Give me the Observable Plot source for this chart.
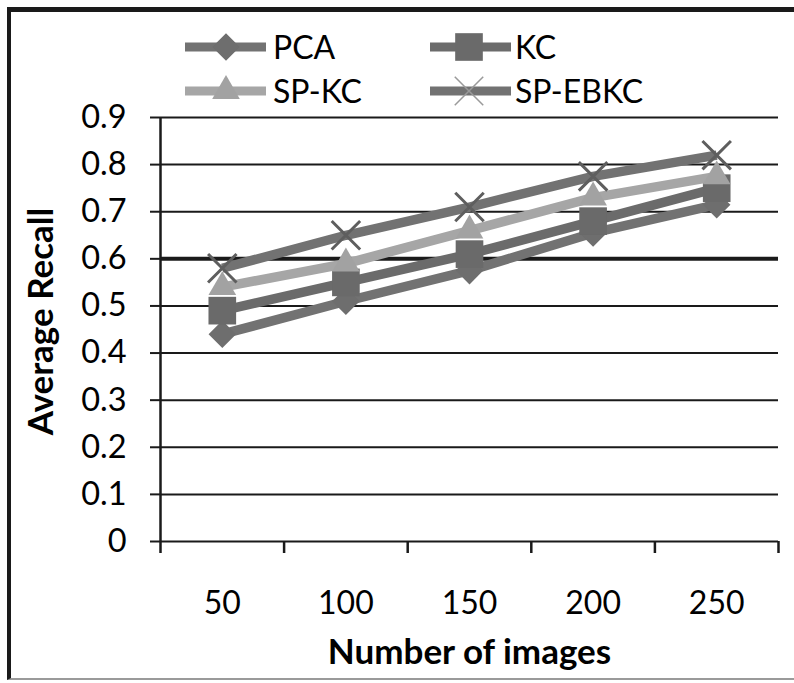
<!DOCTYPE html>
<html>
<head>
<meta charset="utf-8">
<script src="https://cdn.jsdelivr.net/npm/d3@7"></script>
<script src="https://cdn.jsdelivr.net/npm/@observablehq/plot@0.6"></script>
<style>
  html, body { margin: 0; padding: 0; background: #fff; }
  #wrap { position: relative; width: 794px; height: 683px; overflow: hidden; background: #fff; font-family: Lato, "Open Sans", sans-serif; }
  #frame { position: absolute; left: 7px; top: 7px; width: 800px; height: 673px; border-left: 4px solid #1a1a1a; border-top: 5px solid #1a1a1a; border-bottom: 2px solid #9a9a9a; box-sizing: border-box; }
  #chart { position: absolute; left: 0; top: 0; }
  #legend { position: absolute; left: 0; top: 0; }
</style>
</head>
<body>
<div id="wrap">
  <div id="frame"></div>
  <div id="chart"></div>
  <svg id="legend" width="794" height="115"></svg>
</div>
<script>
// ---- data ----
const images = [50, 100, 150, 200, 250];
const pca    = [0.44, 0.51, 0.575, 0.655, 0.715];
const kc     = [0.49, 0.55, 0.61, 0.68, 0.75];
const spkc   = [0.54, 0.59, 0.66, 0.73, 0.775];
const spebkc = [0.58, 0.65, 0.71, 0.775, 0.82];
const seriesNames = ["PCA", "KC", "SP-KC", "SP-EBKC"];
const yTicks = [0, 0.1, 0.2, 0.3, 0.4, 0.5, 0.6, 0.7, 0.8, 0.9];
const xBoundaryTicks = [25, 75, 125, 175, 225, 275];

// ---- styles ----
const styles = {
  "PCA":     {line: "#727272", mark: "#6e6e6e", symbol: "diamond2", r: 12.4},
  "KC":      {line: "#6b6b6b", mark: "#6a6a6a", symbol: "square", r: 15.6},
  "SP-KC":   {line: "#a6a6a6", mark: "#a2a2a2", symbol: "triangle2", r: 13.2},
  "SP-EBKC": {line: "#727272", mark: "#5e5e5e", symbol: "times", r: 13}
};
const valuesBySeries = {"PCA": pca, "KC": kc, "SP-KC": spkc, "SP-EBKC": spebkc};
const rows = seriesNames.map(s => images.map((x, i) => ({series: s, x, y: valuesBySeries[s][i]})));

const marks = [
  Plot.ruleY(yTicks.filter(d => d !== 0.6), {stroke: "#1a1a1a", strokeWidth: 2}),
  Plot.ruleY([0.6], {stroke: "#1a1a1a", strokeWidth: 4}),
  Plot.ruleX([25], {y1: 0, y2: 0.9, stroke: "#1a1a1a", strokeWidth: 2.5}),
  Plot.axisY({ticks: yTicks, tickSize: 10, tickPadding: 24, tickFormat: d => String(d), fontSize: 32.5, stroke: "#1a1a1a", strokeWidth: 2, label: null}),
  Plot.axisX({ticks: xBoundaryTicks, tickSize: 12, tickFormat: () => "", stroke: "#1a1a1a", strokeWidth: 2.5, label: null}),
  Plot.axisX({ticks: images, tickSize: 0, tickPadding: 50, tickFormat: d => String(d), fontSize: 32, label: null}),
  Plot.text(["Number of images"], {frameAnchor: "bottom", lineAnchor: "middle", textAnchor: "middle", dy: 111, fontSize: 35, fontWeight: "bold", fill: "#000"}),
  Plot.text(["Average Recall"], {frameAnchor: "left", lineAnchor: "middle", textAnchor: "middle", dx: -119, dy: -8, rotate: -90, fontSize: 35, fontWeight: "bold", fill: "#000"})
];
rows.forEach(data => {
  const st = styles[data[0].series];
  marks.push(Plot.line(data, {x: "x", y: "y", stroke: st.line, strokeWidth: 9.5, strokeLinecap: "butt"}));
  if (st.symbol === "times") {
    marks.push(Plot.dot(data, {x: "x", y: "y", symbol: "times", r: st.r, stroke: st.mark, strokeWidth: 3}));
  } else {
    marks.push(Plot.dot(data, {x: "x", y: "y", symbol: st.symbol, r: st.r, fill: st.mark, stroke: "none"}));
  }
});

const chart = Plot.plot({
  width: 794,
  height: 683,
  marginLeft: 160,
  marginRight: 16,
  marginTop: 117,
  marginBottom: 142,
  style: {fontFamily: "Lato, 'Open Sans', sans-serif", background: "transparent", color: "#000", overflow: "visible"},
  x: {type: "linear", domain: [25, 275], axis: null},
  y: {domain: [0, 0.9], axis: null},
  marks
});
document.getElementById("chart").appendChild(chart);

// ---- legend ----
const leg = d3.select("#legend");
const legendPos = [
  {name: "PCA", x0: 185, x1: 266, cx: 226, tx: 273, y: 47},
  {name: "KC", x0: 430, x1: 511, cx: 469, tx: 515, y: 47},
  {name: "SP-KC", x0: 185, x1: 266, cx: 226, tx: 273, y: 91},
  {name: "SP-EBKC", x0: 430, x1: 511, cx: 469, tx: 515, y: 91}
];
const symMap = {diamond2: d3.symbolDiamond2, square: d3.symbolSquare, triangle2: d3.symbolTriangle2, times: d3.symbolTimes};
legendPos.forEach(p => {
  const st = styles[p.name];
  leg.append("line").attr("x1", p.x0).attr("x2", p.x1).attr("y1", p.y).attr("y2", p.y)
    .attr("stroke", st.line).attr("stroke-width", 9);
  const path = d3.symbol(symMap[st.symbol], Math.PI * st.r * st.r)();
  const g = leg.append("path").attr("d", path).attr("transform", `translate(${p.cx},${p.y})`);
  if (st.symbol === "times") g.attr("fill", "none").attr("stroke", "#9a9a9a").attr("stroke-width", 1.5);
  else g.attr("fill", st.mark);
  leg.append("text").attr("x", p.tx).attr("y", p.y + 12).text(p.name)
    .attr("font-family", "Lato, 'Open Sans', sans-serif").attr("font-size", 32).attr("fill", "#000");
});
</script>
</body>
</html>
